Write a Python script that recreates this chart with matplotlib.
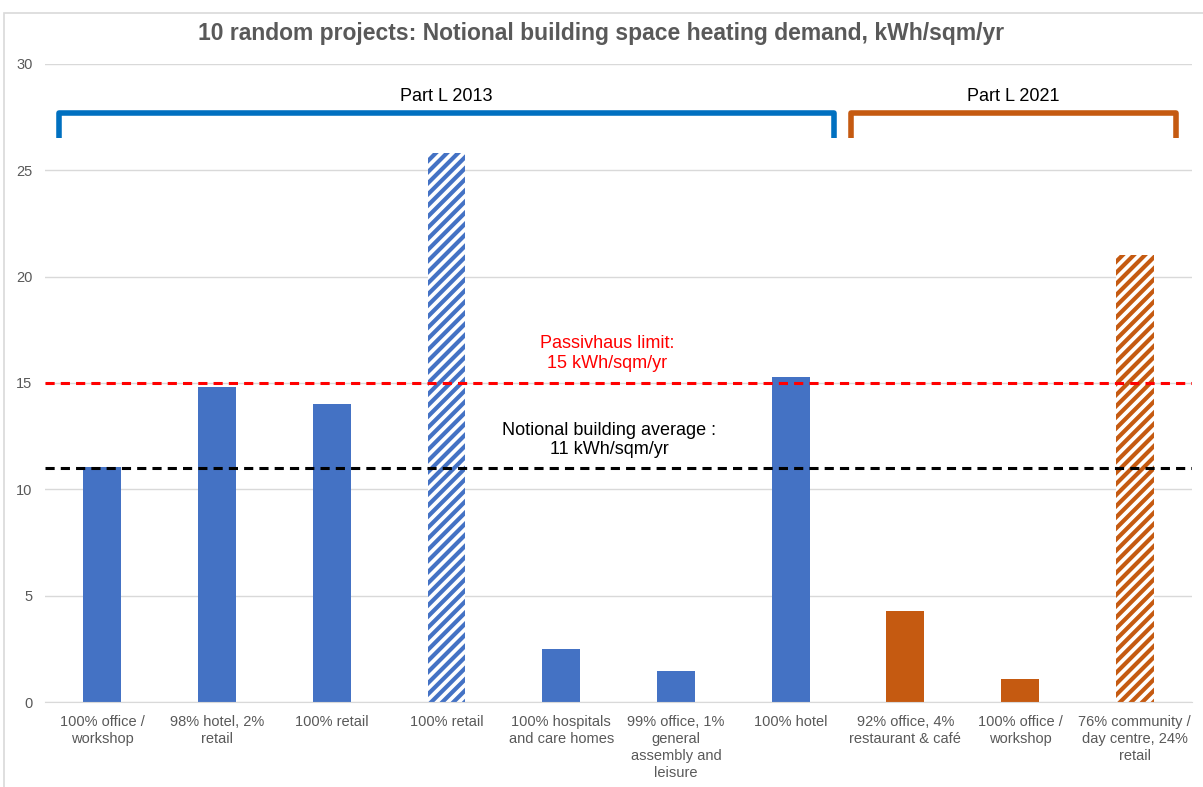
import matplotlib.pyplot as plt
from matplotlib.patches import Rectangle

plt.rcParams['font.family'] = ['Liberation Sans', 'DejaVu Sans']
plt.rcParams['hatch.linewidth'] = 3.0

labels = ['100% office /\nworkshop', '98% hotel, 2%\nretail', '100% retail', '100% retail',
          '100% hospitals\nand care homes', '99% office, 1%\ngeneral\nassembly and\nleisure',
          '100% hotel', '92% office, 4%\nrestaurant & café', '100% office /\nworkshop',
          '76% community /\nday centre, 24%\nretail']
values = [11.05, 14.8, 14.0, 25.8, 2.5, 1.45, 15.3, 4.3, 1.1, 21.0]
groups = ['2013', '2013', '2013', '2013', '2013', '2013', '2013', '2021', '2021', '2021']
hatched = [False, False, False, True, False, False, False, False, False, True]

passivhaus = 15
notional_avg = 11

# bracket spans (category index units) and heights
brackets = [('Part L 2013', -0.375, 6.375, '#0070C0'), ('Part L 2021', 6.525, 9.36, '#C55A11')]
bracket_top = 27.7
bracket_bottom = 26.5

colors = {'2013': '#4472C4', '2021': '#C55A11'}
grey = '#595959'

fig = plt.figure(figsize=(12.03, 7.87), dpi=100)
ax = fig.add_axes([0.0374, 0.108, 0.9536, 0.8107])

x = range(len(values))
for i in x:
    c = colors[groups[i]]
    if hatched[i]:
        ax.bar(i, values[i], width=0.33, facecolor='white', edgecolor=c, hatch='///',
               linewidth=0, zorder=2)
    else:
        ax.bar(i, values[i], width=0.33, color=c, zorder=2)

ax.axhline(passivhaus, color='#FF0000', linestyle=(0, (3, 2)), linewidth=2.2, zorder=3)
ax.axhline(notional_avg, color='black', linestyle=(0, (3, 2)), linewidth=2.2, zorder=3)
ax.text(4.40, 16.4, 'Passivhaus limit:\n15 kWh/sqm/yr', color='#FF0000', fontsize=13,
        ha='center', va='center', linespacing=1.2)
ax.text(4.42, 12.32, 'Notional building average :\n11 kWh/sqm/yr', color='black', fontsize=13,
        ha='center', va='center', linespacing=1.2)

for name, x0, x1, c in brackets:
    ax.plot([x0, x0, x1, x1], [bracket_bottom, bracket_top, bracket_top, bracket_bottom],
            color=c, linewidth=4, solid_joinstyle='round', solid_capstyle='butt', zorder=3)
    ax.text((x0 + x1) / 2, 28.45, name, fontsize=13, ha='center', va='center', color='black')

ax.set_xlim(-0.5, 9.5)
ax.set_ylim(0, 30)
ax.set_yticks(range(0, 31, 5))
ax.set_xticks(list(x))
ax.set_xticklabels(labels, fontsize=10.5, color=grey, linespacing=1.3)
ax.tick_params(axis='both', length=0, labelsize=10.5, labelcolor=grey)
ax.tick_params(axis='x', pad=9)
ax.tick_params(axis='y', pad=9)
ax.grid(axis='y', color='#D9D9D9', linewidth=1, zorder=0)
ax.set_axisbelow(True)
for s in ['top', 'right', 'left']:
    ax.spines[s].set_visible(False)
ax.spines['bottom'].set_color('#D9D9D9')

fig.text(0.5, 0.957, '10 random projects: Notional building space heating demand, kWh/sqm/yr',
         ha='center', va='center', fontsize=16.5, fontweight='bold', color=grey)

fig.patches.append(Rectangle((0.003, -0.01), 1.1, 1.003 - 0.01, transform=fig.transFigure,
                             fill=False, edgecolor='#D9D9D9', linewidth=1.2))

fig.savefig('out.png', dpi=100)
